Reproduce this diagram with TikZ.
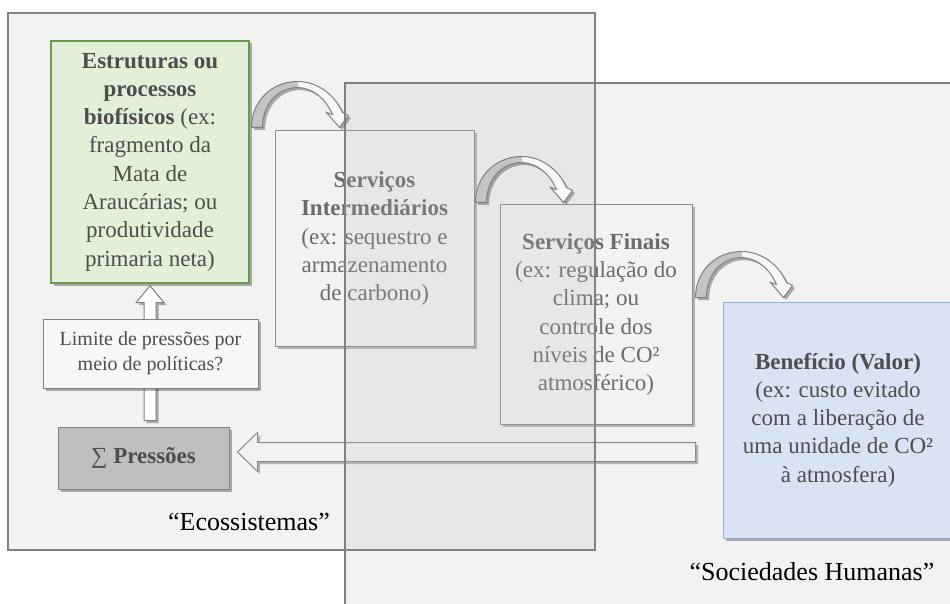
\documentclass[tikz,border=0pt]{standalone}
\usepackage{fontspec}
\setmainfont{Liberation Serif}
\usetikzlibrary{shadows,calc}
\definecolor{txt}{HTML}{595959}
\definecolor{txtd}{HTML}{4D4D4D}
\definecolor{edge}{HTML}{808080}
\definecolor{gfill}{HTML}{E2F0D9}
\definecolor{gedge}{HTML}{6A9A48}
\definecolor{bfill}{HTML}{DAE3F3}
\definecolor{bedge}{HTML}{8FAADC}
\definecolor{ovl}{HTML}{BABABA}
\definecolor{pfill}{HTML}{BFBFBF}
\definecolor{agray}{HTML}{C4C4C4}
\pgfdeclarelayer{bg}
\pgfdeclarelayer{ovlayer}
\pgfdeclarelayer{toplayer}
\pgfsetlayers{bg,ovlayer,main,toplayer}
\tikzset{
  shad/.style={drop shadow={shadow xshift=2.5pt, shadow yshift=-2.5pt, opacity=0.3, fill=black}},
  box/.style={draw=edge, line width=1pt, fill=white, text=txt, align=center, inner sep=0pt,
    font=\fontsize{23}{28.3}\selectfont, shad},
  region/.style={fill=ovl, fill opacity=0.19},
  regionedge/.style={draw=edge, line width=1.4pt},
  barrow/.style={draw=edge, line width=1pt, fill=white, line join=miter, shad},
  lbl/.style={anchor=base, text=black, font=\fontsize{26}{30}\selectfont, inner sep=0pt},
}
\newcommand\curvarrow[1]{%
  \begin{scope}[shift={(#1)}]
    \fill[white!97!black, shad] (0,0) .. controls (0,-27) and (21,-46) .. (46,-46)
      .. controls (66,-46) and (83,-33) .. (91,-15) -- (97,-12) -- (88,0) -- (75,-15) -- (81,-13)
      .. controls (74,-29) and (62,-39) .. (47,-40) .. controls (25,-40) and (11,-22) .. (11,0) -- cycle;
    \fill[agray] (0,0) .. controls (0,-27) and (21,-46) .. (46,-46) -- (47,-40)
      .. controls (25,-40) and (11,-22) .. (11,0) -- cycle;
    \draw[edge, line width=1pt, line join=miter] (0,0) .. controls (0,-27) and (21,-46) .. (46,-46)
      .. controls (66,-46) and (83,-33) .. (91,-15) -- (97,-12) -- (88,0) -- (75,-15) -- (81,-13)
      .. controls (74,-29) and (62,-39) .. (47,-40) .. controls (25,-40) and (11,-22) .. (11,0) -- cycle;
  \end{scope}}
\begin{document}
\begin{tikzpicture}[x=1pt,y=-1pt]
\useasboundingbox (0,0) rectangle (950,604);

% boxes under the translucent regions
\begin{pgfonlayer}{bg}
  \fill[white] (0,0) rectangle (950,604);
  \node[box, minimum width=199pt, minimum height=215pt] (inter) at (374.5,238.5)
    {\textbf{Serviços}\\\textbf{Intermediários}\\(ex: sequestro e\\armazenamento\\de carbono)};
  \node[box, minimum width=192pt, minimum height=219pt] (finais) at (596,314.5)
    {\textbf{Serviços Finais}\\(ex: regulação do\\clima; ou\\controle dos\\níveis de CO²\\atmosférico)};
\end{pgfonlayer}

% top boxes
\node[box, text=txtd, draw=gedge, line width=1.4pt, fill=gfill, minimum width=198pt, minimum height=242pt] (estr) at (150,162)
  {\textbf{Estruturas ou}\\\textbf{processos}\\\textbf{biofísicos} (ex:\\fragmento da\\Mata de\\Araucárias; ou\\produtividade\\primaria neta)};
\node[box, text=txtd, fill=pfill, draw=edge, minimum width=171pt, minimum height=62pt] (pres) at (143.5,458)
  {∑ \textbf{Pressões}};
\node[box, text=txtd, fill=bfill, draw=bedge, minimum width=230pt, minimum height=236pt] (benef) at (838,420)
  {\textbf{Benefício (Valor)}\\(ex: custo evitado\\com a liberação de\\uma unidade de CO²\\à atmosfera)};

% up block arrow
\coordinate (ut) at ($(estr.south)+(0,2)$);
\coordinate (ub) at ($(estr.south |- pres.north)+(0,-6)$);
\draw[barrow] ($(ut)+(-14,17)$) -- (ut) -- ($(ut)+(14,17)$) -- ($(ut)+(6,17)$) -- ($(ub)+(6,0)$)
  -- ($(ub)+(-6,0)$) -- ($(ut)+(-6,17)$) -- cycle;
\node[box, text=txtd, fill=white!97!black, minimum width=215pt, minimum height=69pt,
  font=\fontsize{20}{25}\selectfont] (lim) at (150.5,353.5) {Limite de pressões por\\meio de políticas?};

% left block arrow (under regions)
\coordinate (lt) at ($(pres.east)+(8,-6)$);
\coordinate (le) at ($(benef.west)+(-27,0)$);
\begin{pgfonlayer}{bg}
  \draw[barrow] (lt) -- ($(lt)+(20,-19.5)$) -- ($(lt)+(20,-9.5)$) -- ($(le |- lt)+(0,-9.5)$)
    -- ($(le |- lt)+(0,9.5)$) -- ($(lt)+(20,9.5)$) -- ($(lt)+(20,19.5)$) -- cycle;
\end{pgfonlayer}

% curved arrows
\coordinate (c1) at ($(inter.north west)+(-23,-3)$);
\coordinate (c2) at ($(finais.north west)+(-24,-2)$);
\coordinate (c3) at ($(benef.north west)+(-27,-4)$);
\curvarrow{c1}
\curvarrow{c2}
\curvarrow{c3}

% translucent regions
\coordinate (eco1) at (8,13);
\coordinate (eco2) at (595,550);
\coordinate (soc1) at (345,83);
\coordinate (soc2) at (975,640);
\begin{pgfonlayer}{ovlayer}
  \fill[region] (eco1) rectangle (eco2);
  \fill[region] (soc1) rectangle (soc2);
\end{pgfonlayer}
\begin{pgfonlayer}{toplayer}
  \draw[regionedge] (eco1) rectangle (eco2);
  \draw[regionedge] (soc1) rectangle (soc2);
\end{pgfonlayer}

\node[lbl] (ecolab) at (249,530) {“Ecossistemas”};
\node[lbl] (soclab) at (812,580) {“Sociedades Humanas”};
\end{tikzpicture}
\end{document}
